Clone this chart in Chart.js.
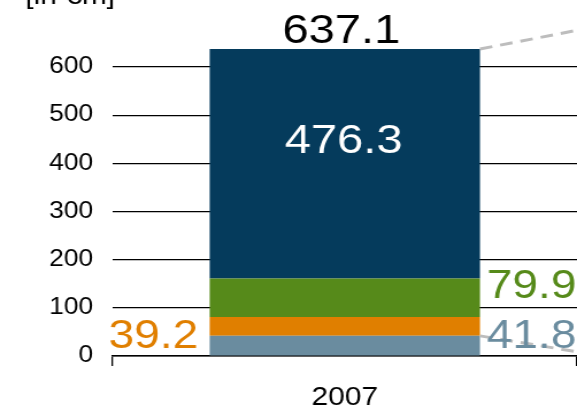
<!DOCTYPE html>
<html>
<head>
<meta charset="utf-8">
<script src="https://cdn.jsdelivr.net/npm/chart.js@4"></script>
<style>
  html, body { margin: 0; padding: 0; background: #fff; overflow: hidden; }
  /* the original picture is slightly stretched sideways */
  #wrap { width: 502px; height: 414px; transform: scaleX(1.1494); transform-origin: 0 0; }
</style>
</head>
<body>
<div id="wrap"><canvas id="revenueChart" width="502" height="414"></canvas></div>
<script>
const years = ["2007"];
const segmentNames = ["Segment D", "Segment C", "Segment B", "Segment A"];
const segmentValues = [41.8, 39.2, 79.9, 476.3];
const segmentColors = ["#6a8c9f", "#e07f00", "#568a1a", "#053b5c"];
const totalLabel = "637.1";
const yTicks = [0, 100, 200, 300, 400, 500, 600];
// where the dashed connectors leave the picture on the right edge
const connectorTop = 677;
const connectorBottom = 8;

const FONT = "'Liberation Sans', Arial, sans-serif";

const labelsPlugin = {
  id: "labels",
  afterDatasetsDraw(chart) {
    const ctx = chart.ctx;
    const y = chart.scales.y;
    const area = chart.chartArea;
    const bar = chart.getDatasetMeta(0).data[0];
    const left = bar.x - bar.width / 2;
    const right = bar.x + bar.width / 2;

    let cum = 0;
    const tops = segmentValues.map((v) => (cum += v));
    const total = tops[tops.length - 1];

    ctx.save();
    // dashed connectors to the next year
    ctx.strokeStyle = "#bdbdbd";
    ctx.lineWidth = 3;
    ctx.setLineDash([11, 7]);
    ctx.beginPath();
    ctx.moveTo(right, y.getPixelForValue(total));
    ctx.lineTo(area.right + 2, y.getPixelForValue(connectorTop));
    ctx.moveTo(right, y.getPixelForValue(tops[0]));
    ctx.lineTo(area.right + 2, y.getPixelForValue(connectorBottom));
    ctx.stroke();
    ctx.setLineDash([]);

    // total on top
    ctx.font = "41px " + FONT;
    ctx.fillStyle = "#000";
    ctx.textAlign = "center";
    ctx.textBaseline = "bottom";
    ctx.fillText(totalLabel, bar.x - 3, y.getPixelForValue(total) + 3);

    // big segment inside the bar
    ctx.textBaseline = "middle";
    ctx.fillStyle = "#fff";
    ctx.fillText(
      String(segmentValues[3]),
      bar.x - 1,
      (y.getPixelForValue(tops[2]) + y.getPixelForValue(tops[3])) / 2 - 22,
    );

    // side labels
    ctx.font = "40px " + FONT;
    ctx.textAlign = "left";
    ctx.fillStyle = segmentColors[2];
    ctx.fillText(String(segmentValues[2]), right + 6, y.getPixelForValue(tops[2]) + 8);
    ctx.fillStyle = segmentColors[0];
    ctx.fillText(String(segmentValues[0]), right + 6, y.getPixelForValue(tops[0]) + 1);
    ctx.textAlign = "right";
    ctx.fillStyle = segmentColors[1];
    ctx.fillText(String(segmentValues[1]), left - 10, y.getPixelForValue(tops[0]) + 1);

    // unit
    ctx.font = "26px " + FONT;
    ctx.fillStyle = "#000";
    ctx.textAlign = "left";
    ctx.textBaseline = "alphabetic";
    ctx.fillText("[in €m]", 22, 4);
    ctx.restore();
  },
};

new Chart(document.getElementById("revenueChart"), {
  type: "bar",
  data: {
    labels: years,
    datasets: segmentValues.map((v, i) => ({
      label: segmentNames[i],
      data: [v],
      backgroundColor: segmentColors[i],
      borderWidth: 0,
      barPercentage: 0.582,
      categoryPercentage: 1,
    })),
  },
  options: {
    responsive: false,
    animation: false,
    layout: { padding: 0 },
    plugins: {
      legend: { display: false },
      tooltip: { enabled: false },
    },
    scales: {
      x: {
        stacked: true,
        border: { display: true, color: "#000", width: 1.5 },
        grid: {
          display: true,
          offset: true,
          drawOnChartArea: false,
          drawTicks: true,
          tickLength: 10,
          color: "#000",
          lineWidth: 1.3,
        },
        ticks: {
          color: "#000",
          font: { family: FONT, size: 26 },
          padding: 16,
        },
        afterFit: (scale) => {
          scale.height = 58;
          scale.paddingLeft = 0;
          scale.paddingRight = 0;
        },
      },
      y: {
        stacked: true,
        min: 0,
        max: 739,
        border: { display: false },
        grid: { color: "#000", lineWidth: 1.2, drawTicks: false },
        afterBuildTicks: (scale) => {
          scale.ticks = yTicks.map((v) => ({ value: v }));
        },
        ticks: {
          color: "#000",
          font: { family: FONT, size: 23 },
          padding: 17,
        },
        afterFit: (scale) => {
          scale.width = 98;
          scale.paddingTop = 0;
          scale.paddingBottom = 0;
        },
      },
    },
  },
  plugins: [labelsPlugin],
});
</script>
</body>
</html>
